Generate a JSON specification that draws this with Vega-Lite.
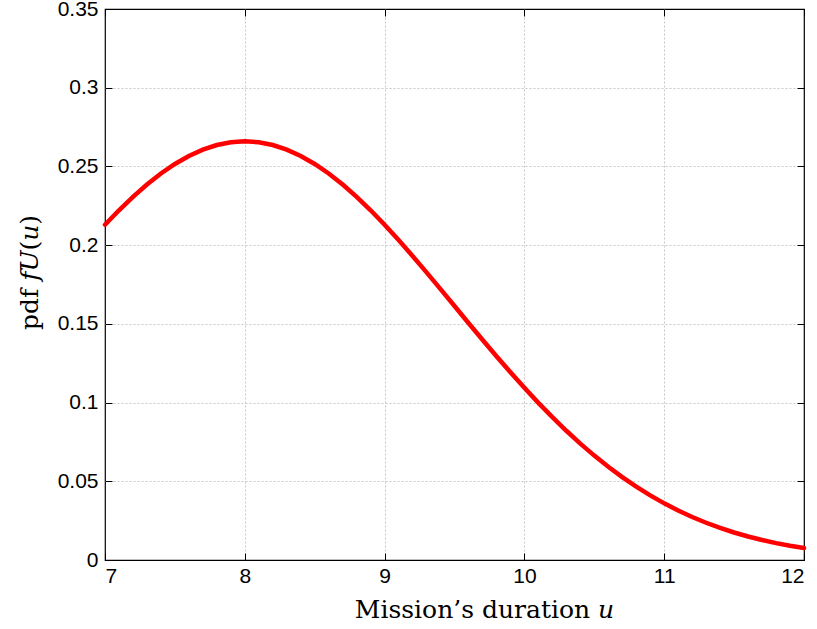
{
  "$schema": "https://vega.github.io/schema/vega-lite/v6.json",
  "autosize": "none",
  "width": 699,
  "height": 551,
  "padding": {"left": 105, "top": 9, "right": 13, "bottom": 69},
  "background": "white",
  "config": {
    "view": {"stroke": "#000000", "strokeWidth": 1.2},
    "axis": {
      "labelFont": "Liberation Sans",
      "labelFontSize": 21,
      "labelColor": "#000000",
      "titleFont": "DejaVu Serif",
      "titleFontSize": 25,
      "titleFontWeight": "normal",
      "titleColor": "#000000",
      "domain": false,
      "tickColor": "#000000",
      "tickSize": -7,
      "tickWidth": 1,
      "gridColor": "#c8c8c8",
      "gridDash": [2, 2],
      "gridWidth": 1
    }
  },
  "data": {
    "values": [
      {"u": 7.0, "pdf": 0.21297}, {"u": 7.1, "pdf": 0.22215}, {"u": 7.2, "pdf": 0.23070},
      {"u": 7.3, "pdf": 0.23852}, {"u": 7.4, "pdf": 0.24552}, {"u": 7.5, "pdf": 0.25159},
      {"u": 7.6, "pdf": 0.25667}, {"u": 7.7, "pdf": 0.26070}, {"u": 7.8, "pdf": 0.26361},
      {"u": 7.9, "pdf": 0.26537}, {"u": 8.0, "pdf": 0.26596}, {"u": 8.1, "pdf": 0.26537},
      {"u": 8.2, "pdf": 0.26361}, {"u": 8.3, "pdf": 0.26070}, {"u": 8.4, "pdf": 0.25667},
      {"u": 8.5, "pdf": 0.25159}, {"u": 8.6, "pdf": 0.24552}, {"u": 8.7, "pdf": 0.23852},
      {"u": 8.8, "pdf": 0.23070}, {"u": 8.9, "pdf": 0.22215}, {"u": 9.0, "pdf": 0.21297},
      {"u": 9.1, "pdf": 0.20326}, {"u": 9.2, "pdf": 0.19313}, {"u": 9.3, "pdf": 0.18269},
      {"u": 9.4, "pdf": 0.17205}, {"u": 9.5, "pdf": 0.16131}, {"u": 9.6, "pdf": 0.15058},
      {"u": 9.7, "pdf": 0.13993}, {"u": 9.8, "pdf": 0.12946}, {"u": 9.9, "pdf": 0.11924},
      {"u": 10.0, "pdf": 0.10934}, {"u": 10.1, "pdf": 0.09982}, {"u": 10.2, "pdf": 0.09072},
      {"u": 10.3, "pdf": 0.08209}, {"u": 10.4, "pdf": 0.07395}, {"u": 10.5, "pdf": 0.06632},
      {"u": 10.6, "pdf": 0.05921}, {"u": 10.7, "pdf": 0.05263}, {"u": 10.8, "pdf": 0.04658},
      {"u": 10.9, "pdf": 0.04104}, {"u": 11.0, "pdf": 0.03599}, {"u": 11.1, "pdf": 0.03143},
      {"u": 11.2, "pdf": 0.02733}, {"u": 11.3, "pdf": 0.02365}, {"u": 11.4, "pdf": 0.02038},
      {"u": 11.5, "pdf": 0.01748}, {"u": 11.6, "pdf": 0.01493}, {"u": 11.7, "pdf": 0.01269},
      {"u": 11.8, "pdf": 0.01074}, {"u": 11.9, "pdf": 0.00906}, {"u": 12.0, "pdf": 0.00760}
    ]
  },
  "layer": [
    {
      "mark": {"type": "line", "strokeOpacity": 0},
      "encoding": {
        "x": {"field": "u", "type": "quantitative",
              "scale": {"domain": [7, 12], "nice": false, "zero": false},
              "axis": {"orient": "top", "labels": false, "grid": false, "title": null, "values": [7, 8, 9, 10, 11, 12]}},
        "y": {"field": "pdf", "type": "quantitative",
              "scale": {"domain": [0, 0.35], "nice": false},
              "axis": {"orient": "right", "labels": false, "grid": false, "title": null,
                       "values": [0, 0.05, 0.1, 0.15, 0.2, 0.25, 0.3, 0.35]}}
      }
    },
    {
      "mark": {"type": "line", "color": "#ff0000", "strokeWidth": 4.5, "strokeCap": "round"},
      "encoding": {
        "x": {"field": "u", "type": "quantitative",
              "scale": {"domain": [7, 12], "nice": false, "zero": false},
              "axis": {"orient": "bottom", "title": "Mission’s duration 𝑢", "values": [7, 8, 9, 10, 11, 12],
                       "grid": true,
                       "gridOpacity": {"condition": {"test": "datum.value == 7 || datum.value == 12", "value": 0}, "value": 1},
                       "labelPadding": 12,
                       "titleX": 379, "titleY": 57, "titleBaseline": "alphabetic", "titleAlign": "center"}},
        "y": {"field": "pdf", "type": "quantitative",
              "scale": {"domain": [0, 0.35], "nice": false},
              "axis": {"orient": "left", "title": "pdf 𝑓𝑈(𝑢)",
                       "values": [0, 0.05, 0.1, 0.15, 0.2, 0.25, 0.3, 0.35],
                       "grid": true,
                       "gridOpacity": {"condition": {"test": "datum.value == 0 || datum.value == 0.35", "value": 0}, "value": 1},
                       "labelPadding": 14,
                       "titleX": -68, "titleY": 263, "titleBaseline": "alphabetic", "titleAlign": "center", "titleAngle": -90,
                       "labelExpr": "datum.value == 0 ? '0' : replace(format(datum.value, '.2~f'), /^0\\./, '0.')"}}
      }
    }
  ],
  "resolve": {"axis": {"x": "independent", "y": "independent"}}
}
